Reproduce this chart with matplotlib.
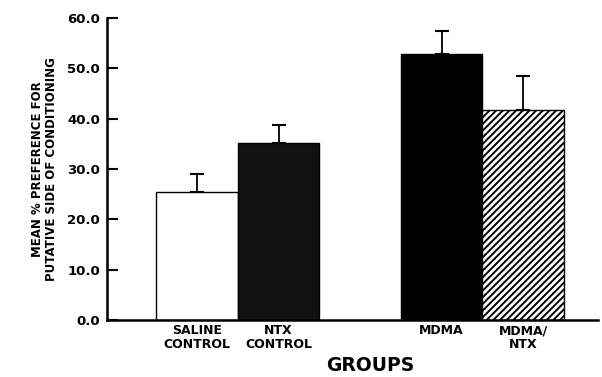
import matplotlib.pyplot as plt

groups = ["SALINE\nCONTROL", "NTX\nCONTROL", "MDMA", "MDMA/\nNTX"]
means = [25.4, 35.1, 52.9, 41.7]
sem = [3.6, 3.7, 4.6, 6.7]
xpos = [1.83, 3.49, 6.81, 8.47]
fills = ["white", "#111111", "black", "white"]
hatches = ["", "", "", "/////"]

plt.rcParams["font.family"] = "DejaVu Sans"
plt.rcParams["hatch.linewidth"] = 1.4

fig = plt.figure(figsize=(6.02, 3.77), dpi=100)
ax = fig.add_axes([0.178, 0.151, 0.816, 0.801])

for x, m, s, c, h in zip(xpos, means, sem, fills, hatches):
    ax.bar(x, m, width=1.66, color=c, edgecolor="black", hatch=h, linewidth=1.0, zorder=2)
    ax.errorbar(x, m, yerr=[[0], [s]], fmt="none", ecolor="black", elinewidth=1.3,
                capsize=5, capthick=1.5, zorder=1)

ax.set_xlim(0, 10)
ax.set_ylim(0, 60)
ax.set_yticks([0, 10, 20, 30, 40, 50, 60])
ax.set_yticklabels(["%.1f" % v for v in [0, 10, 20, 30, 40, 50, 60]],
                   fontsize=9.5, fontweight="heavy")
ax.tick_params(axis="y", direction="in", length=8, width=1.5, pad=5)
ax.set_xticks(xpos)
ax.set_xticklabels(groups, fontsize=9, fontweight="heavy", linespacing=1.1)
ax.tick_params(axis="x", length=0, pad=3)
for lbl in ax.get_xticklabels():
    lbl.set_multialignment("center")

ax.spines["top"].set_visible(False)
ax.spines["right"].set_visible(False)
ax.spines["left"].set_linewidth(1.8)
ax.spines["bottom"].set_linewidth(1.8)

ax.set_ylabel("MEAN % PREFERENCE FOR\nPUTATIVE SIDE OF CONDITIONING",
              fontsize=8.5, fontweight="bold", labelpad=7, linespacing=1.1)
fig.text(0.615, 0.015, "GROUPS", fontsize=13.5, fontweight="bold", ha="center")

fig.savefig("out.png", dpi=100)
